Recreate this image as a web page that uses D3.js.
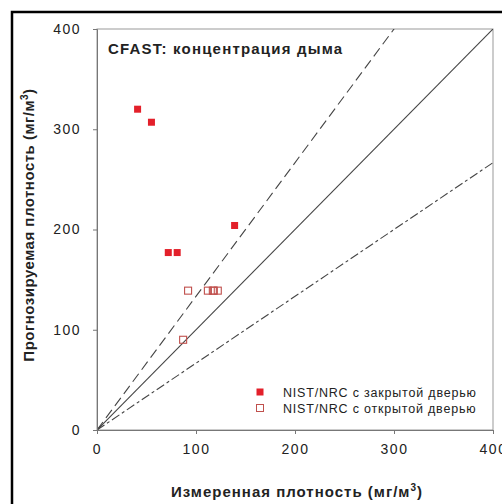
<!DOCTYPE html>
<html>
<head>
<meta charset="utf-8">
<script src="https://cdn.jsdelivr.net/npm/d3@7"></script>
<style>
  body { margin: 0; background: #fff; }
  text { font-family: "Liberation Sans", Arial, sans-serif; fill: #222; }
</style>
</head>
<body>
<svg id="chart" width="502" height="504"></svg>
<script>
// measured vs predicted smoke density, mg/m3
const closedDoor = [[41, 320], [55, 307], [72, 177], [81, 177], [139, 204]];
const openDoor = [[92, 139], [112, 139], [117, 139], [118, 139], [122, 139], [87, 90]];
const xTicks = [0, 100, 200, 300, 400];
const yTicks = [0, 100, 200, 300, 400];
const refLines = [
  { slope: 1, dash: null },
  { slope: 4 / 3, dash: '10,5' },
  { slope: 2 / 3, dash: '9,3,3,3' },
];
const legendItems = [
  { label: 'NIST/NRC с закрытой дверью', filled: true },
  { label: 'NIST/NRC с открытой дверью', filled: false },
];

const svg = d3.select('#chart');
const x = d3.scaleLinear().domain([0, 400]).range([97, 493]);
const y = d3.scaleLinear().domain([0, 400]).range([430, 29]);

svg.append('rect').attr('x', 12).attr('y', 12).attr('width', 520).attr('height', 520)
  .attr('fill', 'none').attr('stroke', '#000').attr('stroke-width', 2.5);

// plot frame
svg.append('rect').attr('x', x(0)).attr('y', y(400)).attr('width', x(400) - x(0)).attr('height', y(0) - y(400))
  .attr('fill', 'none').attr('stroke', '#999').attr('stroke-width', 1);

const plot = svg.append('g');
plot.append('clipPath').attr('id', 'clip').append('rect')
  .attr('x', x(0)).attr('y', y(400)).attr('width', x(400) - x(0)).attr('height', y(0) - y(400));

plot.selectAll('line.ref').data(refLines).join('line').attr('class', 'ref')
  .attr('clip-path', 'url(#clip)')
  .attr('x1', x(0)).attr('y1', y(0))
  .attr('x2', d => x(400)).attr('y2', d => y(400 * d.slope))
  .attr('stroke', '#444').attr('stroke-width', 1.1)
  .attr('stroke-dasharray', d => d.dash);

const xAxis = svg.append('g').attr('transform', `translate(0,${y(0)})`)
  .call(d3.axisBottom(x).tickValues(xTicks).tickSize(4).tickPadding(10));
const yAxis = svg.append('g').attr('transform', `translate(${x(0)},0)`)
  .call(d3.axisLeft(y).tickValues(yTicks).tickSize(4).tickPadding(12));
for (const ax of [xAxis, yAxis]) {
  ax.select('.domain').attr('stroke', '#777');
  ax.selectAll('.tick line').attr('stroke', '#777');
  ax.selectAll('.tick text').attr('font-size', 14).attr('letter-spacing', 1.5)
    .attr('font-family', '"Liberation Sans", Arial, sans-serif').attr('fill', '#222');
}

const ms = 7;
plot.selectAll('rect.open').data(openDoor).join('rect').attr('class', 'open')
  .attr('x', d => x(d[0]) - ms / 2).attr('y', d => y(d[1]) - ms / 2)
  .attr('width', ms).attr('height', ms)
  .attr('fill', 'none').attr('stroke', '#c0504d').attr('stroke-width', 1.1);
plot.selectAll('rect.closed').data(closedDoor).join('rect').attr('class', 'closed')
  .attr('x', d => x(d[0]) - ms / 2).attr('y', d => y(d[1]) - ms / 2)
  .attr('width', ms).attr('height', ms)
  .attr('fill', '#e3202a');

svg.append('text').attr('x', 108).attr('y', 54)
  .attr('font-size', 15).attr('font-weight', 'bold').attr('letter-spacing', 1.2)
  .text('CFAST: концентрация дыма');

const legend = svg.append('g').selectAll('g').data(legendItems).join('g')
  .attr('transform', (d, i) => `translate(260,${392 + i * 16})`);
legend.append('rect').attr('x', -3.5).attr('y', -3.5).attr('width', 7).attr('height', 7)
  .attr('fill', d => d.filled ? '#e3202a' : 'none')
  .attr('stroke', d => d.filled ? 'none' : '#c0504d').attr('stroke-width', 1);
legend.append('text').attr('x', 23).attr('y', 4.5).attr('font-size', 12.5).attr('letter-spacing', 0.8)
  .text(d => d.label);

const xl = svg.append('text').attr('x', 297).attr('y', 497).attr('text-anchor', 'middle')
  .attr('font-size', 15).attr('font-weight', 'bold').attr('letter-spacing', 1);
xl.append('tspan').text('Измеренная плотность (мг/м');
xl.append('tspan').attr('font-size', 10).attr('dy', -6).text('3');
xl.append('tspan').attr('dy', 6).text(')');

const yl = svg.append('text').attr('transform', 'translate(34,225) rotate(-90)').attr('text-anchor', 'middle')
  .attr('font-size', 15).attr('font-weight', 'bold').attr('letter-spacing', 0.5);
yl.append('tspan').text('Прогнозируемая плотность (мг/м');
yl.append('tspan').attr('font-size', 10).attr('dy', -6).text('3');
yl.append('tspan').attr('dy', 6).text(')');
</script>
</body>
</html>
